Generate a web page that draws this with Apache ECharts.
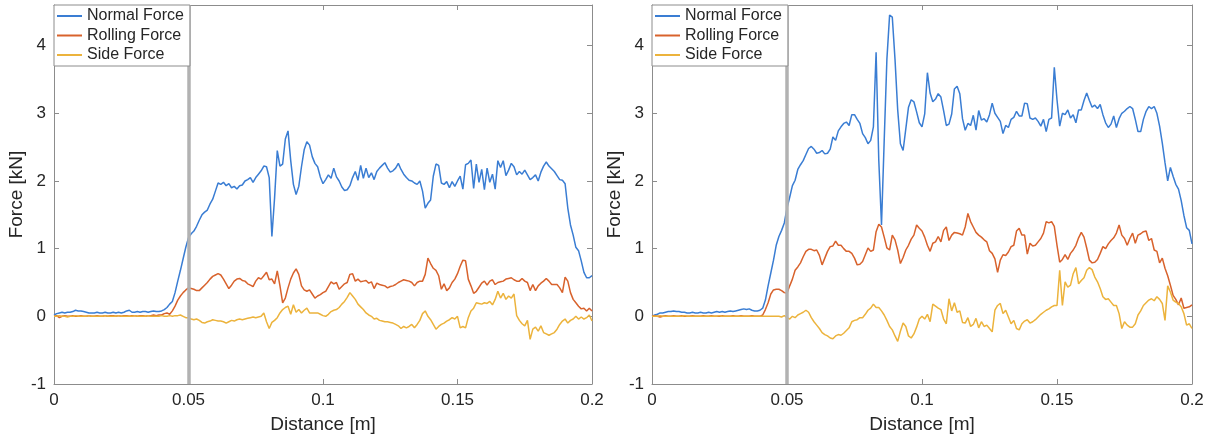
<!DOCTYPE html>
<html>
<head>
<meta charset="utf-8">
<script src="https://cdn.jsdelivr.net/npm/echarts@6/dist/echarts.min.js"></script>
<style>
html, body { margin:0; padding:0; background:#fff; }
#chart { width:1211px; height:439px; }
</style>
</head>
<body>
<div id="chart"></div>
<script>

const seriesNames = ["Normal Force", "Rolling Force", "Side Force"];
const xTicks = [0, 0.05, 0.1, 0.15, 0.2];
const yTicks = [-1, 0, 1, 2, 3, 4];

// sampled every 1 mm, 0 .. 0.2 m
const SAMPLES = 201;

// left test
const normalLeft = [
0.02,0.04,0.05,0.06,0.05,0.06,0.06,0.07,0.09,0.08,
0.08,0.07,0.06,0.05,0.05,0.05,0.06,0.05,0.05,0.06,
0.05,0.05,0.06,0.05,0.06,0.05,0.06,0.08,0.09,0.06,
0.06,0.07,0.06,0.07,0.07,0.06,0.07,0.08,0.07,0.07,
0.08,0.10,0.13,0.18,0.22,0.35,0.52,0.68,0.85,1.02,
1.16,1.22,1.26,1.33,1.42,1.50,1.54,1.57,1.66,1.73,
1.85,1.97,1.95,1.98,1.93,1.96,1.90,1.92,1.88,1.93,
1.94,2.00,2.02,2.05,1.98,2.05,2.10,2.15,2.22,2.21,
2.05,1.18,1.75,2.45,2.22,2.25,2.62,2.74,2.30,1.95,
1.80,1.92,2.21,2.46,2.58,2.53,2.36,2.26,2.21,2.06,
1.96,2.02,2.09,2.04,2.19,2.06,2.00,1.91,1.86,1.87,
1.93,2.05,2.14,2.01,2.23,2.04,2.19,2.05,2.12,2.02,
2.14,2.19,2.23,2.27,2.19,2.13,2.15,2.19,2.26,2.17,
2.10,2.05,2.01,2.00,1.97,1.95,2.00,1.85,1.60,1.67,
1.72,2.07,2.25,2.23,1.97,1.95,1.99,1.90,1.99,1.92,
2.00,2.07,1.88,2.24,2.26,2.31,1.89,2.25,1.98,2.17,
1.87,2.19,1.98,2.10,1.88,2.30,2.20,2.30,2.08,2.16,
2.26,2.21,2.09,2.14,2.10,2.16,2.09,2.02,2.05,2.09,
2.00,2.13,2.22,2.28,2.22,2.18,2.14,2.08,2.02,2.01,
1.96,1.60,1.35,1.20,1.02,0.97,0.82,0.65,0.57,0.57,
0.60
];

const rollingLeft = [
0.00,0.01,-0.02,0.00,0.01,0.00,0.00,0.01,0.00,0.00,
0.01,0.00,0.00,0.01,0.00,0.00,0.01,0.00,0.00,0.01,
0.00,0.01,0.01,0.00,0.01,0.00,0.01,0.01,0.00,0.01,
0.01,0.00,0.01,0.01,0.00,0.01,0.01,0.02,0.01,0.02,
0.02,0.04,0.05,0.03,0.08,0.15,0.24,0.30,0.35,0.39,
0.42,0.41,0.40,0.38,0.38,0.42,0.46,0.50,0.55,0.59,
0.61,0.63,0.61,0.55,0.48,0.41,0.46,0.52,0.55,0.56,
0.53,0.52,0.48,0.46,0.44,0.52,0.57,0.55,0.60,0.65,
0.54,0.55,0.48,0.67,0.45,0.20,0.27,0.42,0.55,0.64,
0.70,0.62,0.45,0.39,0.37,0.39,0.33,0.27,0.30,0.32,
0.35,0.37,0.44,0.51,0.48,0.50,0.40,0.44,0.48,0.50,
0.62,0.63,0.52,0.55,0.51,0.52,0.53,0.49,0.51,0.41,
0.49,0.47,0.46,0.45,0.42,0.44,0.45,0.47,0.50,0.52,
0.54,0.53,0.52,0.50,0.45,0.50,0.52,0.52,0.62,0.86,
0.78,0.71,0.68,0.60,0.40,0.48,0.38,0.42,0.50,0.55,
0.63,0.74,0.83,0.82,0.55,0.45,0.34,0.37,0.43,0.49,
0.52,0.46,0.52,0.54,0.47,0.50,0.51,0.52,0.55,0.56,
0.57,0.54,0.52,0.52,0.56,0.52,0.50,0.38,0.47,0.38,
0.45,0.49,0.52,0.56,0.52,0.47,0.47,0.47,0.42,0.35,
0.58,0.52,0.35,0.25,0.20,0.15,0.11,0.12,0.08,0.12,
0.08
];

const sideLeft = [
0.00,0.00,0.01,0.00,0.00,-0.01,0.00,0.00,0.01,0.00,
0.00,0.00,0.00,0.01,0.00,0.00,0.00,0.00,0.00,0.01,
0.00,0.00,0.00,0.00,0.01,0.00,0.00,0.00,0.00,0.00,
0.01,0.00,0.00,0.00,0.00,0.01,0.00,0.00,0.00,0.00,
0.01,0.00,0.00,0.01,0.00,0.01,0.01,0.02,0.00,-0.02,
-0.02,-0.04,-0.05,-0.04,-0.06,-0.09,-0.10,-0.08,-0.07,-0.05,
-0.06,-0.07,-0.07,-0.08,-0.10,-0.08,-0.06,-0.07,-0.05,-0.04,
-0.05,-0.04,-0.03,-0.02,-0.01,-0.02,-0.01,0.00,0.05,-0.08,
-0.18,-0.09,-0.06,-0.02,0.05,0.10,0.13,0.15,0.03,0.17,
0.06,0.10,0.05,0.09,0.12,0.05,0.05,0.05,0.05,0.03,
0.01,0.00,0.03,0.07,0.09,0.10,0.13,0.18,0.22,0.28,
0.35,0.30,0.25,0.18,0.14,0.10,0.05,0.02,0.00,-0.04,
-0.03,-0.06,-0.07,-0.08,-0.08,-0.09,-0.10,-0.12,-0.14,-0.18,
-0.15,-0.17,-0.15,-0.12,-0.17,-0.12,-0.06,0.04,0.08,0.00,
-0.05,-0.12,-0.19,-0.15,-0.12,-0.10,-0.07,-0.05,-0.02,-0.04,
0.00,-0.17,-0.15,-0.17,-0.02,0.08,0.12,0.20,0.19,0.18,
0.20,0.19,0.22,0.17,0.25,0.37,0.27,0.34,0.25,0.30,
0.27,0.33,0.01,-0.06,-0.11,-0.14,-0.06,-0.34,-0.19,-0.16,
-0.22,-0.14,-0.24,-0.26,-0.28,-0.26,-0.24,-0.19,-0.12,-0.07,
-0.04,-0.10,-0.06,-0.04,0.00,-0.04,-0.01,-0.04,-0.02,0.02,
-0.07
];

// right test
const normalRight = [
0.00,0.02,0.03,0.05,0.05,0.06,0.07,0.07,0.08,0.07,
0.07,0.06,0.06,0.05,0.05,0.06,0.05,0.05,0.06,0.05,
0.05,0.06,0.05,0.06,0.07,0.06,0.07,0.06,0.07,0.08,
0.07,0.08,0.09,0.10,0.11,0.10,0.11,0.09,0.08,0.08,
0.09,0.12,0.24,0.45,0.64,0.83,1.05,1.18,1.27,1.38,
1.60,1.76,1.93,2.01,2.17,2.24,2.30,2.39,2.48,2.51,
2.47,2.41,2.42,2.45,2.40,2.41,2.47,2.65,2.60,2.74,
2.80,2.85,2.87,2.82,2.98,2.98,2.91,2.85,2.70,2.64,
2.55,2.60,2.80,3.90,2.30,1.35,2.60,3.80,4.45,4.42,
3.80,3.05,2.55,2.45,2.77,3.09,3.20,3.17,3.02,2.86,
2.80,2.99,3.60,3.30,3.17,3.21,3.29,3.24,3.04,2.82,
2.84,2.99,3.36,3.40,3.29,2.92,2.75,2.85,2.82,2.97,
2.75,3.04,2.90,2.92,2.87,2.98,3.15,3.00,2.94,2.88,
2.70,2.82,2.79,2.91,2.94,3.03,2.96,2.96,3.15,3.14,
2.93,2.91,2.93,2.88,2.81,2.91,2.73,2.91,2.93,3.68,
3.20,2.81,3.00,2.98,3.05,2.93,2.98,2.86,3.05,3.05,
3.19,3.30,3.19,3.09,3.12,3.07,3.13,2.98,2.86,2.79,
2.84,2.96,2.79,2.92,3.00,3.03,3.07,3.10,3.07,2.91,
2.73,2.73,2.91,3.03,3.10,3.07,3.10,3.00,2.81,2.56,
2.27,2.00,2.20,2.07,1.95,1.88,1.71,1.49,1.31,1.27,
1.07
];

const rollingRight = [
0.00,0.01,0.00,-0.01,0.00,0.01,0.00,0.00,0.01,0.00,
0.00,0.01,0.00,0.00,0.00,0.01,0.00,0.00,0.00,0.01,
0.00,0.00,0.01,0.00,0.00,0.00,0.01,0.00,0.00,0.00,
0.01,0.00,0.00,0.01,0.00,0.00,0.00,0.01,0.00,0.00,
0.00,0.02,0.10,0.20,0.33,0.39,0.40,0.40,0.38,0.35,
0.34,0.45,0.55,0.68,0.73,0.79,0.88,0.96,0.99,0.99,
0.97,0.98,0.90,0.76,0.86,0.96,1.03,1.04,1.11,1.05,
1.05,1.00,0.96,0.96,0.93,0.86,0.76,0.77,0.81,0.91,
1.01,0.96,0.98,1.25,1.36,1.32,1.17,1.01,0.98,1.20,
1.13,0.98,0.78,0.87,0.98,1.05,1.14,1.20,1.35,1.30,
1.26,1.17,1.05,0.96,1.08,1.10,1.18,1.10,1.27,1.32,
1.12,1.20,1.24,1.23,1.22,1.20,1.32,1.52,1.40,1.32,
1.24,1.20,1.17,1.13,1.10,0.97,0.93,0.85,0.65,0.83,
0.91,0.90,0.95,1.03,1.05,1.26,1.30,1.20,1.20,0.92,
1.08,1.04,1.05,1.10,1.15,1.23,1.40,1.38,1.40,1.33,
1.05,0.80,0.84,0.91,0.84,0.93,0.98,1.05,1.16,1.24,
1.17,1.01,0.83,0.79,0.80,0.84,0.93,1.03,1.00,1.07,
1.12,1.16,1.23,1.35,1.20,1.15,1.05,1.15,1.23,1.08,
1.20,1.22,1.25,1.26,1.12,1.15,0.98,0.96,0.79,0.86,
0.71,0.60,0.46,0.31,0.25,0.17,0.27,0.12,0.13,0.14,
0.17
];

const sideRight = [
0.00,0.00,0.00,0.01,0.00,0.00,0.00,0.00,0.00,0.00,
0.00,0.00,0.01,0.00,0.00,0.00,0.00,0.00,0.00,0.00,
0.00,0.00,0.00,0.00,0.00,0.01,0.00,0.00,0.00,0.00,
0.00,0.00,0.00,0.00,0.00,0.00,0.00,0.00,0.00,0.00,
0.00,0.00,0.00,0.00,0.00,0.00,0.00,0.00,-0.01,0.01,
-0.02,-0.04,0.00,-0.02,0.02,0.04,0.06,0.09,0.06,-0.02,
-0.08,-0.13,-0.18,-0.24,-0.27,-0.29,-0.32,-0.33,-0.29,-0.27,
-0.28,-0.25,-0.21,-0.17,-0.08,-0.06,-0.05,-0.02,-0.02,0.03,
0.09,0.12,0.18,0.13,0.13,0.08,0.02,-0.06,-0.15,-0.20,
-0.29,-0.37,-0.22,-0.10,-0.15,-0.29,-0.32,-0.26,-0.16,-0.04,
0.00,-0.04,0.03,-0.08,0.18,0.15,0.12,0.10,-0.04,-0.11,
0.26,0.08,0.20,0.06,0.08,-0.09,-0.10,-0.02,-0.15,-0.12,
-0.03,-0.17,-0.08,-0.15,-0.13,-0.18,-0.23,0.09,0.16,0.19,
0.04,0.09,-0.01,-0.11,-0.06,-0.18,-0.20,-0.11,-0.07,-0.05,
-0.10,-0.08,-0.05,-0.01,0.03,0.06,0.09,0.11,0.14,0.16,
0.16,0.68,0.16,0.51,0.43,0.46,0.63,0.72,0.48,0.53,
0.57,0.68,0.72,0.69,0.58,0.51,0.41,0.29,0.25,0.26,
0.21,0.16,0.16,0.04,-0.18,-0.08,-0.13,-0.16,-0.16,-0.11,
0.02,0.08,0.16,0.20,0.24,0.26,0.23,0.29,0.25,0.19,
-0.06,0.45,0.36,0.24,0.21,0.19,0.14,0.04,-0.13,-0.11,
-0.18
];

const distance = [];
for(let i=0;i<SAMPLES;i++){
    distance.push(+(i*0.001).toFixed(3));
}

const colors = ["#3a7dd3", "#d8622c", "#ecb33c"];
const FONT = '"Liberation Sans", Arial, sans-serif';
const TEXT = "#262626";
const AXIS = "#8c8c8c";

function pairs(values){
    return distance.map((d, k) => [d, values[k]]);
}

function xAxes(gridIndex){
    const base = {
        gridIndex:gridIndex,
        type:"value",
        min:xTicks[0],
        max:xTicks[xTicks.length - 1],
        interval:xTicks[1] - xTicks[0],
        axisLine:{ show:true, onZero:false, lineStyle:{ color:AXIS, width:1 } },
        axisTick:{ show:true, inside:true, length:5, lineStyle:{ color:AXIS } },
        splitLine:{ show:false }
    };
    return [
        Object.assign({}, base, {
            position:"bottom",
            axisLabel:{ color:TEXT, fontSize:17, fontFamily:FONT, margin:8 },
            name:"Distance [m]",
            nameLocation:"middle",
            nameGap:31,
            nameTextStyle:{ color:TEXT, fontSize:19, fontFamily:FONT }
        }),
        Object.assign({}, base, {
            position:"top",
            axisLabel:{ show:false }
        })
    ];
}

function yAxes(gridIndex){
    const base = {
        gridIndex:gridIndex,
        type:"value",
        min:yTicks[0],
        max:4.6,
        interval:1,
        axisLine:{ show:true, onZero:false, lineStyle:{ color:AXIS, width:1 } },
        axisTick:{ show:true, inside:true, length:5, lineStyle:{ color:AXIS } },
        splitLine:{ show:false }
    };
    return [
        Object.assign({}, base, {
            position:"left",
            axisLabel:{
                color:TEXT, fontSize:17, fontFamily:FONT, margin:8,
                showMaxLabel:false,
                formatter:v => yTicks.indexOf(v) >= 0 ? String(v) : ""
            },
            name:"Force [kN]",
            nameLocation:"middle",
            nameGap:28,
            nameTextStyle:{ color:TEXT, fontSize:19, fontFamily:FONT }
        }),
        Object.assign({}, base, {
            position:"right",
            axisLabel:{ show:false }
        })
    ];
}

function legendAt(left){
    return {
        left:left,
        top:5,
        orient:"vertical",
        data:seriesNames,
        icon:"rect",
        itemWidth:25,
        itemHeight:2,
        itemGap:3.5,
        padding:[3, 6, 3, 3],
        backgroundColor:"#fff",
        borderColor:AXIS,
        borderWidth:1,
        borderRadius:0,
        selectedMode:false,
        z:20,
        textStyle:{ color:TEXT, fontSize:16, fontFamily:FONT, lineHeight:16 }
    };
}

function plotSeries(gridIndex, lists){
    return lists.map((values, k) => {
        const s = {
            name:seriesNames[k],
            type:"line",
            xAxisIndex:gridIndex * 2,
            yAxisIndex:gridIndex * 2,
            data:pairs(values),
            showSymbol:false,
            symbol:"none",
            smooth:false,
            lineStyle:{ color:colors[k], width:1.5 },
            itemStyle:{ color:colors[k] },
            emphasis:{ disabled:true }
        };
        if(k === lists.length - 1){
            s.markLine = {
                silent:true,
                symbol:["none", "none"],
                label:{ show:false },
                lineStyle:{ color:"#b2b2b2", width:3.5, type:"solid" },
                data:[ { xAxis:0.05 } ]
            };
        }
        return s;
    });
}

const chart = echarts.init(document.getElementById("chart"));

chart.setOption({
    animation:false,
    backgroundColor:"#fff",
    grid:[
        { left:54, top:5, width:538, height:379 },
        { left:652, top:5, width:540, height:379 }
    ],
    legend:[ legendAt(54), legendAt(652) ],
    xAxis:xAxes(0).concat(xAxes(1)),
    yAxis:yAxes(0).concat(yAxes(1)),
    series:plotSeries(0, [normalLeft, rollingLeft, sideLeft])
        .concat(plotSeries(1, [normalRight, rollingRight, sideRight]))
});

</script>
</body>
</html>
